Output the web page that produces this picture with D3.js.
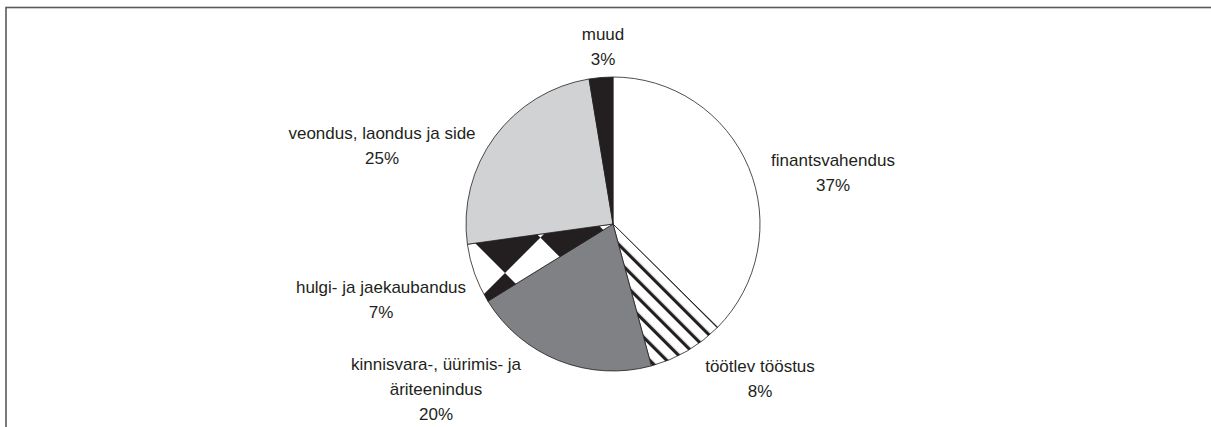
<!DOCTYPE html>
<html>
<head>
<meta charset="utf-8">
<script src="https://cdn.jsdelivr.net/npm/d3@7.9.0/dist/d3.min.js"></script>
<style>
  html, body { margin: 0; padding: 0; background: #fff; }
  svg { display: block; }
  text { font-family: "Liberation Sans", Arial, sans-serif; font-size: 17px; fill: #231f20; }
</style>
</head>
<body>
<svg id="chart" width="1211" height="427"></svg>
<script>
// sectors, clockwise from 12 o'clock
const sectors = ['finantsvahendus', 'töötlev tööstus', 'kinnisvara-, üürimis- ja äriteenindus',
  'hulgi- ja jaekaubandus', 'veondus, laondus ja side', 'muud'];
const labelLines = [
  ['finantsvahendus'],
  ['töötlev tööstus'],
  ['kinnisvara-, üürimis- ja', 'äriteenindus'],
  ['hulgi- ja jaekaubandus'],
  ['veondus, laondus ja side'],
  ['muud']
];
// shares (%); labels show them rounded
const shares = [37.4, 8.4, 20.4, 6.6, 24.6, 2.6];

const width = 1211, height = 427;
const cx = 613, cy = 224, radius = 147;

// label anchors, offset from the pie centre (centre of first line, baseline)
const labelOffset = [
  [220, -58],
  [147, 148],
  [-177, 146],
  [-232, 69],
  [-231, -85],
  [-10, -184]
];
const lineGap = 25;

const svg = d3.select('#chart');

// frame (only its top and left edges fall inside the picture)
svg.append('rect')
  .attr('x', 6).attr('y', 7.5)
  .attr('width', 1300).attr('height', 500)
  .attr('fill', 'none')
  .attr('stroke', '#5a5a5a')
  .attr('stroke-width', 1.6);

const defs = svg.append('defs');

// diagonal stripes for töötlev tööstus
const stripes = defs.append('pattern')
  .attr('id', 'stripes')
  .attr('patternUnits', 'userSpaceOnUse')
  .attr('width', 12).attr('height', 12)
  .attr('patternTransform', 'rotate(-45)');
stripes.append('rect').attr('width', 12).attr('height', 12).attr('fill', '#fff');
stripes.append('rect').attr('x', 0).attr('width', 3.2).attr('height', 12).attr('fill', '#231f20');

// big rotated checkerboard for hulgi- ja jaekaubandus
const checker = defs.append('pattern')
  .attr('id', 'checker')
  .attr('patternUnits', 'userSpaceOnUse')
  .attr('width', 100).attr('height', 100)
  .attr('patternTransform', 'translate(-108,49) rotate(45)');
checker.append('rect').attr('width', 100).attr('height', 100).attr('fill', '#fff');
checker.append('rect').attr('width', 50).attr('height', 50).attr('fill', '#231f20');
checker.append('rect').attr('x', 50).attr('y', 50).attr('width', 50).attr('height', 50).attr('fill', '#231f20');

const fills = ['#ffffff', 'url(#stripes)', '#808184', 'url(#checker)', '#d1d2d4', '#231f20'];

const pie = d3.pie().sort(null).value(d => d);
const arc = d3.arc().innerRadius(0).outerRadius(radius);
const arcs = pie(shares);

const g = svg.append('g').attr('transform', `translate(${cx},${cy})`);

g.selectAll('path.slice')
  .data(arcs)
  .join('path')
  .attr('class', 'slice')
  .attr('d', arc)
  .attr('fill', (d, i) => fills[i])
  .attr('stroke', '#231f20')
  .attr('stroke-width', 0.8)
  .attr('stroke-linejoin', 'round');

// labels
arcs.forEach((d, i) => {
  const [ox, oy] = labelOffset[i];
  const t = g.append('text')
    .attr('text-anchor', 'middle')
    .attr('x', ox).attr('y', oy);
  const lines = labelLines[i].concat([Math.round(shares[i]) + '%']);
  lines.forEach((ln, j) => {
    t.append('tspan').attr('x', ox).attr('dy', j === 0 ? 0 : lineGap).text(ln);
  });
});
</script>
</body>
</html>
